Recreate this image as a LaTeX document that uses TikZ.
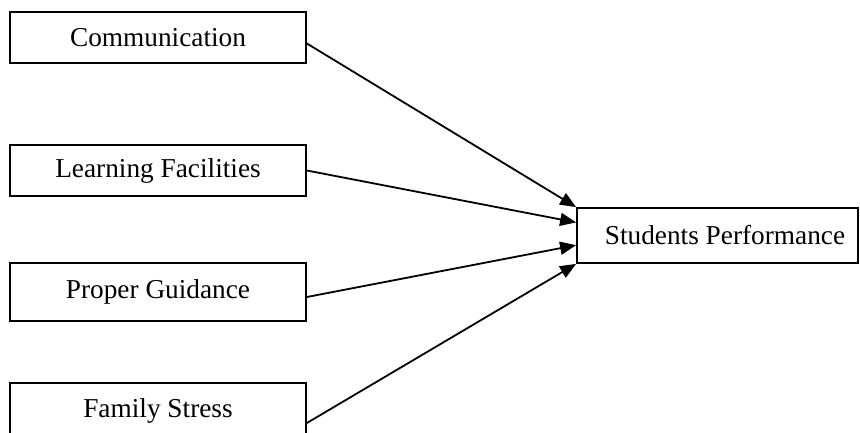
\documentclass[tikz,border=0pt]{standalone}
\usepackage{fontspec}
\setmainfont{Liberation Serif}
\usetikzlibrary{arrows.meta,calc}

\begin{document}
\begin{tikzpicture}[x=1pt,y=-1pt,
   factor/.style={draw,line width=1.8pt,minimum width=296pt,inner sep=0pt,
                  font=\fontsize{27.3}{32}\selectfont},
   link/.style={-{Triangle[length=16pt,width=13pt]},line width=1.8pt}]
   \useasboundingbox (0,0) rectangle (860,432);
   \node[factor,minimum height=51pt] (comm)   at (158,37.5)  {Communication};
   \node[factor,minimum height=51pt] (learn)  at (158,170.5) {Learning Facilities};
   \node[factor,minimum height=58pt] (guide)  at (158,292)   {Proper Guidance};
   \node[factor,minimum height=56pt] (stress) at (158,411)   {Family Stress};
   \node[factor,minimum width=281pt,minimum height=55pt] (perf) at (717.5,235.5)
        {\hspace*{15pt}Students Performance};

   \draw[link] ([yshift=-6pt]comm.east) -- (perf.north west);
   \draw[link] (learn.east) -- ($(perf.north west)!0.27!(perf.south west)$);
   \draw[link] ([yshift=-5pt]guide.east) -- ($(perf.north west)!0.67!(perf.south west)$);
   \draw[link] ([yshift=-12pt]stress.east) -- (perf.south west);
\end{tikzpicture}
\end{document}
